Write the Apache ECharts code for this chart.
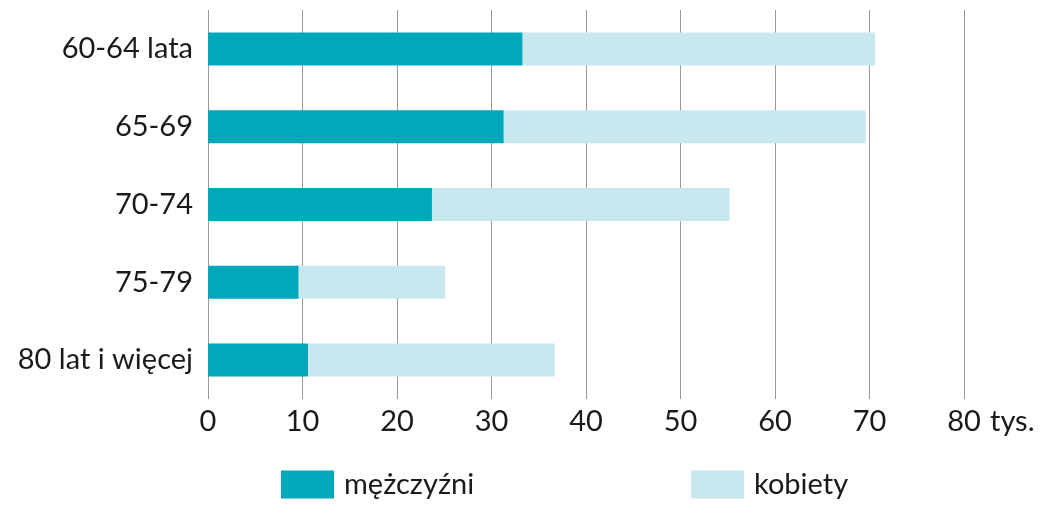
<!DOCTYPE html>
<html>
<head>
<meta charset="utf-8">
<script src="https://cdn.jsdelivr.net/npm/echarts@6/dist/echarts.min.js"></script>
<style>html,body{margin:0;padding:0;background:#fff}#c{width:1061px;height:506px}</style>
</head>
<body>
<div id="c"></div>
<script>
const categories = ['60-64 lata', '65-69', '70-74', '75-79', '80 lat i więcej'];
const men = [33.3, 31.3, 23.7, 9.6, 10.6];
const women = [37.3, 38.3, 31.5, 15.5, 26.1];
const seriesNames = ['mężczyźni', 'kobiety'];
const xTicks = [0, 10, 20, 30, 40, 50, 60, 70, 80];
const unit = 'tys.';

const FONT = 'Lato';
const FS = 29;
const legendText = { fontSize: FS, color: '#1a1a1a', fontFamily: FONT, padding: [0, 0, 0, 5] };
const chart = echarts.init(document.getElementById('c'));
chart.setOption({
  animation: false,
  textStyle: { fontFamily: FONT },
  grid: { left: 208, right: 97, top: 10, bottom: 107, containLabel: false },
  legend: [
    { data: [seriesNames[0]], top: 465, left: 276, itemWidth: 53, itemHeight: 28, icon: 'rect', textStyle: legendText },
    { data: [seriesNames[1]], top: 465, left: 686, itemWidth: 53, itemHeight: 28, icon: 'rect', textStyle: legendText }
  ],
  xAxis: {
    type: 'value',
    min: xTicks[0],
    max: xTicks[xTicks.length - 1],
    interval: 10,
    name: unit,
    nameLocation: 'end',
    nameGap: 26,
    nameTextStyle: { fontSize: FS, color: '#1a1a1a', verticalAlign: 'top', padding: [8, 0, 0, 0] },
    axisLine: { show: false },
    axisTick: { show: false },
    axisLabel: { fontSize: FS, color: '#1a1a1a', margin: 8 },
    splitLine: { show: true, lineStyle: { color: '#999', width: 1 } }
  },
  yAxis: {
    type: 'category',
    data: categories,
    inverse: true,
    axisLine: { show: false },
    axisTick: { show: false },
    axisLabel: { fontSize: FS, color: '#1a1a1a', margin: 15 }
  },
  series: [
    { name: seriesNames[0], type: 'bar', stack: 'a', data: men, barWidth: 33, itemStyle: { color: '#00a8ba' } },
    { name: seriesNames[1], type: 'bar', stack: 'a', data: women, barWidth: 33, itemStyle: { color: '#c8e8ef' } }
  ]
});
</script>
</body>
</html>
